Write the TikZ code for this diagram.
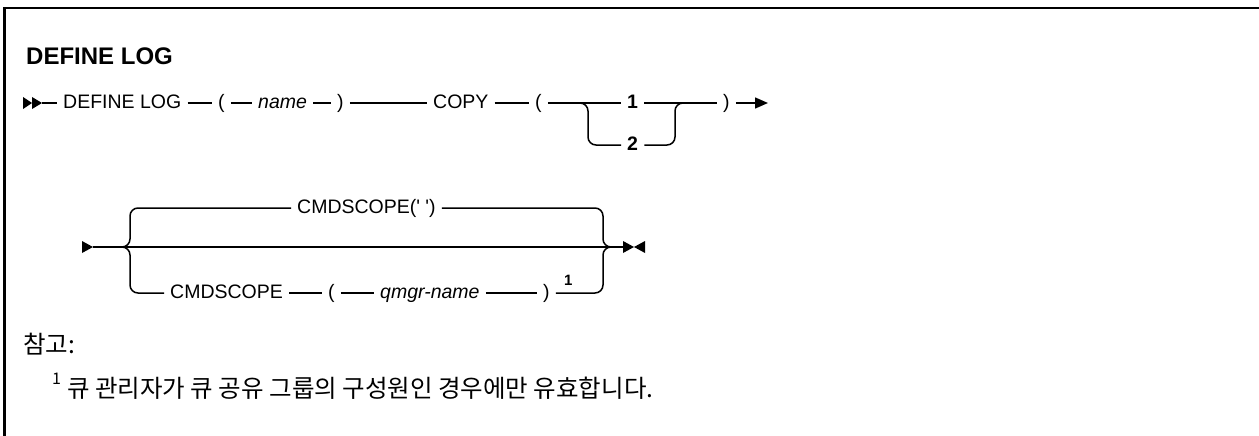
\documentclass[tikz,border=0pt]{standalone}
\usepackage{fontspec}
\setmainfont{Liberation Sans}
\newfontfamily\kr{Noto Sans CJK KR}
\usetikzlibrary{arrows.meta}
\begin{document}
\begin{tikzpicture}[x=1pt,y=1pt,
  lbl/.style={anchor=base west, inner xsep=6pt, inner ysep=0pt, font=\fontsize{19.5}{22}\selectfont},
  ln/.style={line width=1.5pt},
  brn/.style={line width=1.5pt, rounded corners=8pt},
  frame/.style={line width=2.5pt, line join=miter},
  krtxt/.style={anchor=west, inner sep=0pt, font=\kr\fontsize{24.5}{28}\selectfont}
]
\useasboundingbox (0,0) rectangle (1259,-436);
% frame
\draw[frame] (4.5,-436) -- (4.5,-8) -- (1259,-8);
% title
\node[anchor=base west, inner sep=0pt, font=\fontsize{24}{27}\bfseries] (ttl) at (26,-65) {DEFINE LOG};

% ---------- row 1 ----------
\coordinate (r1) at (0,-103);
\coordinate (r1b) at (0,-145);
\coordinate (s1) at (42,-103);
\coordinate (e1) at (768,-103);
\fill (23,-97) -- (32,-103) -- (23,-109) -- cycle;
\fill (32,-97) -- (42,-103) -- (32,-109) -- cycle;
\node[lbl] (def) at (57,-108) {DEFINE LOG};
\node[lbl] (lpa) at (212,-108) {(};
\node[lbl] (nm) at (252,-108) {\textit{name}};
\node[lbl] (rpa) at (331,-108) {)};
\node[lbl] (cp) at (427,-108) {COPY};
\node[lbl] (lpb) at (529,-108) {(};
\node[lbl, font=\fontsize{19.5}{22}\bfseries] (o1) at (621,-108) {1};
\node[lbl, font=\fontsize{19.5}{22}\bfseries] (o2) at (621,-150) {2};
\node[lbl] (rpb) at (717,-108) {)};
\draw[ln] (s1) -- (def.west |- r1);
\draw[ln] (def.east |- r1) -- (lpa.west |- r1);
\draw[ln] (lpa.east |- r1) -- (nm.west |- r1);
\draw[ln] (nm.east |- r1) -- (rpa.west |- r1);
\draw[ln] (rpa.east |- r1) -- (cp.west |- r1);
\draw[ln] (cp.east |- r1) -- (lpb.west |- r1);
\draw[ln] (lpb.east |- r1) -- (o1.west |- r1);
\draw[ln] (o1.east |- r1) -- (rpb.west |- r1);
\draw[brn] (576,-103) -- (588,-103) -- (588,-145) -- (o2.west |- r1b);
\draw[brn] (o2.east |- r1b) -- (675,-145) -- (675,-103) -- (687,-103);
\draw[ln, -{Triangle[length=13pt,width=11pt]}] (rpb.east |- r1) -- (e1);

% ---------- row 2 ----------
\coordinate (r2) at (0,-247);
\coordinate (r2t) at (0,-208);
\coordinate (r2b) at (0,-293);
\coordinate (s2) at (93,-247);
\coordinate (e2) at (623,-247);
\fill (82,-241) -- (93,-247) -- (82,-253) -- cycle;
\draw[ln] (s2) -- (e2);
\fill (623,-241) -- (634,-247) -- (623,-253) -- cycle;
\fill (645,-241) -- (634,-247) -- (645,-253) -- cycle;
\node[lbl] (c1) at (291,-213) {CMDSCOPE(\textquotesingle\ \textquotesingle)};
\node[lbl] (c2) at (164,-298) {CMDSCOPE};
\node[lbl] (lpc) at (322,-298) {(};
\node[lbl] (qm) at (374,-298) {\textit{qmgr-name}};
\node[lbl] (rpc) at (537,-298) {)};
\node[anchor=base west, inner sep=0pt, font=\fontsize{15}{17}\bfseries] (sp) at (564,-285) {1};
\draw[brn] (118,-247) -- (130,-247) -- (130,-208) -- (c1.west |- r2t);
\draw[brn] (c1.east |- r2t) -- (603,-208) -- (603,-247) -- (615,-247);
\draw[brn] (118,-247) -- (130,-247) -- (130,-293) -- (c2.west |- r2b);
\draw[ln] (c2.east |- r2b) -- (lpc.west |- r2b);
\draw[ln] (lpc.east |- r2b) -- (qm.west |- r2b);
\draw[ln] (qm.east |- r2b) -- (rpc.west |- r2b);
\draw[brn] (rpc.east |- r2b) -- (603,-293) -- (603,-247) -- (615,-247);

% ---------- notes ----------
\node[krtxt] (nt) at (23,-344) {참고:};
\node[anchor=base west, inner sep=0pt, font=\kr\fontsize{16}{19}\selectfont] (fn1) at (52,-384) {1};
\node[krtxt] (fn) at (67,-388) {큐 관리자가 큐 공유 그룹의 구성원인 경우에만 유효합니다.};
\end{tikzpicture}
\end{document}
